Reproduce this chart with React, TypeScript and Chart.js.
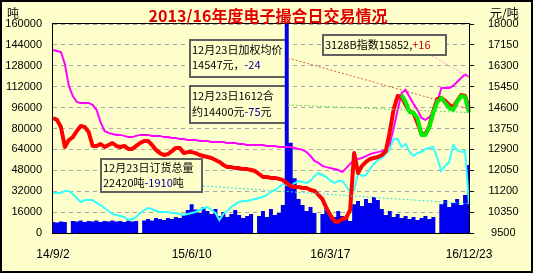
import { useEffect, useRef } from 'react';
import { Chart, registerables } from 'chart.js';

Chart.register(...registerables);

// ---------- data ----------
const POINTS = 106;
const categories: string[] = Array.from({ length: POINTS }, (_, i) => `d${i}`);
const xTickIndex = [0, 35, 70, 105];
const xTickLabels = ['14/9/2', '15/6/10', '16/3/17', '16/12/23'];

// daily volume (吨), left axis
const volume = [
  8400, 8000, 8800, 8400, 0, 9200, 8800, 9600, 8400, 9200,
  8800, 9600, 8400, 9200, 8800, 9600, 8800, 9200, 8400, 9600,
  8800, 9200, 0, 9600, 10700, 9600, 11500, 10700, 9900, 11500,
  10700, 12200, 11500, 14500, 17600, 22000, 18000, 15300, 19900, 16800,
  14500, 18400, 13000, 16000, 12200, 14500, 17600, 13800, 11500, 13000,
  14500, 0, 13000, 16800, 12200, 18400, 13800, 15300, 21400, 160000,
  69000, 42000, 26000, 21400, 16800, 19900, 15300, 0, 14500, 19900,
  13800, 12200, 16800, 13000, 11500, 9200, 22000, 24500, 20700, 26000,
  23000, 27500, 25200, 18400, 13800, 16800, 12200, 14500, 11500, 13000,
  10700, 12200, 9900, 11500, 13000, 10700, 12200, 0, 22000, 25200,
  19900, 23000, 26000, 21400, 29000, 52000,
];

// 订货总量 (吨), left axis
const orderTotal = [
  30600, 30600, 30600, 32150, 32150, 29860, 26790, 23730, 25260, 25260,
  25260, 22970, 21440, 19140, 16840, 14550, 13780, 13010, 12250, 9950,
  10720, 12250, 15310, 17610, 19140, 18370, 16840, 16080, 16080, 16080,
  15310, 15310, 14550, 13780, 14550, 15310, 16080, 17610, 19140, 19900,
  17610, 15310, 9950, 14550, 16840, 19900, 22200, 23730, 24500, 24500,
  25260, 26030, 26790, 27560, 29090, 31390, 32920, 35220, 37510, 36750,
  35980, 38280, 39810, 39040, 38280, 39810, 43640, 45930, 44400, 42870,
  39810, 38280, 39810, 39810, 35980, 31390, 32920, 45930, 43640, 44400,
  48990, 52820, 55890, 57420, 60480, 64310, 71960, 71960, 65840, 68130,
  62010, 58950, 61240, 62010, 64310, 65070, 65840, 57420, 47460, 51290,
  54350, 67370, 63540, 62010, 62780, 22420,
];

// 3128B指数 (元/吨), right axis
const indexPrice = [
  16940, 16900, 16860, 16370, 15480, 15070, 14830, 14790, 14790, 14790,
  14710, 14500, 14010, 13650, 13570, 13530, 13490, 13490, 13450, 13400,
  13400, 13450, 13490, 13490, 13490, 13450, 13450, 13450, 13400, 13400,
  13360, 13360, 13320, 13320, 13280, 13280, 13280, 13240, 13240, 13240,
  13200, 13200, 13200, 13200, 13160, 13160, 13160, 13120, 13120, 13080,
  13080, 13080, 13080, 13080, 13040, 13040, 13040, 13000, 13000, 13000,
  13000, 12960, 12920, 12880, 12790, 12630, 12430, 12350, 12230, 12180,
  12140, 12100, 12060, 11980, 12140, 12310, 12470, 12510, 12550, 12630,
  12710, 12750, 12790, 12830, 12880, 13120, 13770, 14500, 15190, 15320,
  15030, 14750, 14500, 14180, 14100, 14220, 14380, 14790, 15400, 15400,
  15400, 15480, 15640, 15800, 15950, 15852,
];

// 加权均价 (元/吨), right axis
const avgPrice = [
  14180, 14100, 13810, 13000, 13280, 13400, 13650, 13850, 13810, 13610,
  13040, 13040, 13120, 13000, 13080, 13160, 13040, 13000, 13040, 12920,
  12920, 13040, 13160, 13240, 13240, 13080, 12880, 12750, 12670, 12710,
  12830, 12960, 12960, 12750, 12790, 12790, 12750, 12670, 12630, 12590,
  12550, 12470, 12390, 12270, 12180, 12180, 12140, 12140, 12100, 12100,
  12060, 12020, 11900, 11780, 11780, 11740, 11740, 11700, 11660, 11530,
  11410, 11370, 11370, 11330, 11330, 11250, 11210, 11050, 10880, 10520,
  10230, 9990, 9950, 10070, 10110, 10440, 12750, 11940, 12230, 12390,
  12510, 12550, 12590, 12670, 12830, 13610, 14540, 15070, 15030, 14710,
  14460, 14380, 13970, 13530, 13530, 13850, 14460, 14950, 14990, 14870,
  14710, 14620, 14870, 15110, 15070, 14547,
];

// 1612合约 (元/吨), right axis, from point 88 on
const contractStart = 88;
const contract1612Tail = [
  15110, 14830, 14420, 14380, 14180, 13490, 13490, 13810, 14380, 14830,
  14990, 14790, 14580, 14500, 14830, 15070, 15030, 14400,
];
const contract1612: (number | null)[] = Array(contractStart).fill(null).concat(contract1612Tail);

// annotation values
const noteDate = '12月23日';
const avgPriceLast = 14547;
const avgPriceChange = -24;
const contractLast = 14400;
const contractChange = -75;
const indexLast = 15852;
const indexChange = 16;
const orderLast = 22420;
const orderChange = -1910;

// ---------- styles ----------
const OUTER_BG = '#FFFFCC';
const PLOT_BG = '#FFFFCC';
const CJK = '"Noto Sans CJK SC", sans-serif';
const LAT = '"Liberation Sans", Arial, sans-serif';
const NOTE_FONT = `11px ${CJK}`;

function fmtSigned(v: number) {
  return v > 0 ? `+${v}` : `${v}`;
}

function richText(ctx: CanvasRenderingContext2D, x: number, y: number, parts: [string, string][]) {
  let cx = x;
  for (const [t, c] of parts) {
    ctx.fillStyle = c;
    ctx.fillText(t, cx, y);
    cx += ctx.measureText(t).width;
  }
}

function noteBox(ctx: CanvasRenderingContext2D, x: number, y: number, w: number, h: number) {
  ctx.fillStyle = PLOT_BG;
  ctx.fillRect(x, y, w, h);
  ctx.strokeStyle = '#606060';
  ctx.lineWidth = 2;
  ctx.strokeRect(x + 1, y + 1, w - 2, h - 2);
}

const overlayPlugin = {
  id: 'overlay',
  beforeDraw(chart: any) {
    const { ctx, width, height, chartArea: a } = chart;
    ctx.save();
    ctx.fillStyle = OUTER_BG;
    ctx.fillRect(0, 0, width, height);
    ctx.fillStyle = PLOT_BG;
    ctx.fillRect(a.left, a.top, a.right - a.left, a.bottom - a.top);
    ctx.restore();
  },
  beforeDatasetsDraw(chart: any) {
    const { ctx } = chart;
    ctx.save();
    noteBox(ctx, 189, 39, 99, 39);
    noteBox(ctx, 189, 85, 99, 39);
    noteBox(ctx, 322, 34, 125, 22);
    noteBox(ctx, 100, 158, 103, 35);
    ctx.font = NOTE_FONT;
    ctx.textBaseline = 'middle';
    ctx.textAlign = 'left';
    const blue = '#000099';
    richText(ctx, 192, 50, [[`${noteDate}加权均价`, '#000']]);
    richText(ctx, 192, 65, [[`${avgPriceLast}元，`, '#000'], [fmtSigned(avgPriceChange), blue]]);
    richText(ctx, 192, 96, [[`${noteDate}1612合`, '#000']]);
    richText(ctx, 192, 112, [[`约${contractLast}元`, '#000'], [fmtSigned(contractChange), blue], ['元', '#000']]);
    richText(ctx, 325, 45, [[`3128B指数${indexLast},`, '#000'], [fmtSigned(indexChange), '#CC0000']]);
    richText(ctx, 103, 168, [[`${noteDate}订货总量`, '#000']]);
    richText(ctx, 103, 183, [[`${orderLast}吨`, '#000'], [fmtSigned(orderChange), blue], ['吨', '#000']]);
    ctx.restore();
  },
  afterDatasetsDraw(chart: any) {
    const { ctx, chartArea: a, scales } = chart;
    const last = POINTS - 1;
    const xe = scales.x.getPixelForValue(last);
    ctx.save();
    ctx.lineWidth = 1;
    ctx.setLineDash([2, 2]);
    const leader = (x0: number, y0: number, x1: number, y1: number, c: string) => {
      ctx.strokeStyle = c;
      ctx.beginPath();
      ctx.moveTo(x0, y0);
      ctx.lineTo(x1, y1);
      ctx.stroke();
    };
    leader(288, 58, xe, scales.yR.getPixelForValue(avgPrice[last]), '#CC6644');
    leader(288, 105, xe, scales.yR.getPixelForValue(contract1612[last] as number), '#66DD66');
    leader(203, 186, xe, scales.yL.getPixelForValue(orderTotal[last]), '#33DDDD');
    leader(432, 56, xe, scales.yR.getPixelForValue(indexPrice[last]), '#FF88DD');
    ctx.setLineDash([]);
    ctx.strokeStyle = '#000';
    ctx.strokeRect(a.left - 0.5, a.top - 0.5, a.right - a.left + 1, a.bottom - a.top + 1);
    ctx.restore();
  },
  afterDraw(chart: any) {
    const { ctx, width, height } = chart;
    ctx.save();
    ctx.textBaseline = 'middle';
    ctx.textAlign = 'center';
    ctx.font = `bold 16px ${CJK}`;
    ctx.fillStyle = '#E00000';
    ctx.fillText('2013/16年度电子撮合日交易情况', 268, 16);
    ctx.textAlign = 'left';
    ctx.font = `12px ${CJK}`;
    ctx.fillStyle = '#000';
    ctx.fillText('吨', 7, 13);
    ctx.fillText('元/吨', 490, 13);
    ctx.strokeStyle = '#000';
    ctx.lineWidth = 2;
    ctx.strokeRect(1, 1, width - 2, height - 2);
    ctx.restore();
  },
};

export default function App() {
  const ref = useRef<HTMLCanvasElement | null>(null);

  useEffect(() => {
    document.body.style.margin = '0';
    if (!ref.current) return;
    const chart = new Chart(ref.current, {
      type: 'line',
      data: {
        labels: categories,
        datasets: [
          {
            label: '1612合约',
            data: contract1612,
            yAxisID: 'yR',
            borderColor: '#00EE00',
            borderWidth: 4,
            pointRadius: 0,
            borderJoinStyle: 'round',
            fill: false,
          },
          {
            label: '加权均价',
            data: avgPrice,
            yAxisID: 'yR',
            borderColor: '#FF0000',
            borderWidth: 4,
            pointRadius: 0,
            borderJoinStyle: 'round',
            fill: false,
          },
          {
            label: '3128B指数',
            data: indexPrice,
            yAxisID: 'yR',
            borderColor: '#FF00FF',
            borderWidth: 2,
            pointRadius: 0,
            fill: false,
          },
          {
            label: '订货总量',
            data: orderTotal,
            yAxisID: 'yL',
            borderColor: '#33FFFF',
            borderWidth: 2,
            pointRadius: 0,
            fill: false,
          },
          {
            label: '成交量',
            data: volume,
            yAxisID: 'yL',
            borderColor: '#0000F0',
            backgroundColor: '#0000F0',
            borderWidth: 0,
            pointRadius: 0,
            fill: 'origin',
            stepped: 'middle',
          },
        ],
      },
      options: {
        animation: false,
        responsive: false,
        maintainAspectRatio: false,
        events: [],
        layout: { padding: { top: 24, left: 0, right: 0, bottom: 0 } },
        plugins: {
          legend: { display: false },
          tooltip: { enabled: false },
          title: { display: false },
        },
        scales: {
          x: {
            type: 'category',
            offset: false,
            grid: { display: false },
            border: { display: false },
            ticks: {
              autoSkip: false,
              maxRotation: 0,
              minRotation: 0,
              padding: 6,
              color: '#000',
              font: { family: LAT, size: 12 },
              callback: (_v: any, i: number) => {
                const k = xTickIndex.indexOf(i);
                return k >= 0 ? xTickLabels[k] : '';
              },
            },
            afterFit: (s: any) => {
              s.height = 40;
            },
          },
          yL: {
            type: 'linear',
            position: 'left',
            min: 0,
            max: 160000,
            ticks: {
              stepSize: 16000,
              padding: 11,
              color: '#000',
              font: { family: LAT, size: 11 },
              callback: (v: any) => String(v),
            },
            grid: { color: '#A8A8A8', drawTicks: false, lineWidth: 1 },
            border: { display: false, dash: [4, 4] },
            afterFit: (s: any) => {
              s.width = 53;
            },
          },
          yR: {
            type: 'linear',
            position: 'right',
            min: 9500,
            max: 18000,
            ticks: {
              stepSize: 850,
              padding: 14,
              crossAlign: 'center',
              color: '#000',
              font: { family: LAT, size: 11 },
              callback: (v: any) => String(v),
            },
            grid: { drawOnChartArea: false, drawTicks: true, tickLength: 5, tickColor: '#000' },
            border: { display: false },
            afterFit: (s: any) => {
              s.width = 64;
            },
          },
        },
      },
      plugins: [overlayPlugin],
    } as any);
    return () => chart.destroy();
  }, []);

  return (
    <div style={{ position: 'absolute', left: 0, top: 0, width: 533, height: 273 }}>
      <canvas ref={ref} width={533} height={273} style={{ width: 533, height: 273, display: 'block' }} />
    </div>
  );
}
